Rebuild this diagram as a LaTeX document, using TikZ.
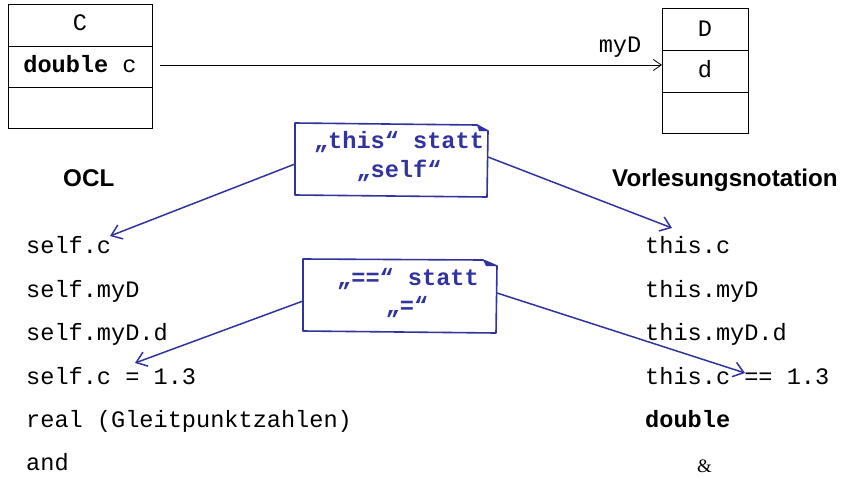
\documentclass[tikz,border=0pt]{standalone}
\usepackage{fontspec}
\setmainfont{Liberation Serif}
\setsansfont{Liberation Sans}
\setmonofont{Liberation Mono}
\usetikzlibrary{arrows.meta}
\definecolor{noteblue}{RGB}{51,51,160}
\begin{document}
\begin{tikzpicture}[x=1pt,y=-1pt,
  mono/.style={font=\fontsize{23.6}{28}\selectfont\ttfamily, inner sep=0pt, anchor=base west},
  monoc/.style={font=\fontsize{23.6}{28}\selectfont\ttfamily, inner sep=0pt, anchor=base},
  head/.style={font=\fontsize{24.2}{28}\selectfont\sffamily\bfseries, inner sep=0pt, anchor=base west},
  notetxt/.style={font=\fontsize{23.6}{28}\selectfont\ttfamily\bfseries, text=noteblue, inner sep=0pt, anchor=base},
  classline/.style={draw=black, line width=1pt},
  noteshape/.style={draw=noteblue, line width=1.6pt, line join=round, fill=white},
  bluearrow/.style={draw=noteblue, line width=1.5pt, -{Straight Barb[length=10pt,width=15pt,line width=1.5pt]}},
  assoc/.style={draw=black, line width=0.8pt, -{Straight Barb[length=8pt,width=11pt,line width=0.8pt]}}
]
\useasboundingbox (0,0) rectangle (844,477);
\fill[white] (0,0) rectangle (844,477);

% class C
\draw[classline] (8,4) rectangle (152,128);
\draw[classline] (8,46) -- (152,46);
\draw[classline] (8,87) -- (152,87);
\node[monoc] (cname) at (80,30) {C};
\node[monoc] (cattr) at (80,72) {\textbf{double} c};

% class D
\draw[classline] (662,8) rectangle (748,133);
\draw[classline] (662,50) -- (748,50);
\draw[classline] (662,92) -- (748,92);
\node[monoc] (dname) at (705,36) {D};
\node[monoc] (dattr) at (705,77) {d};

% association
\coordinate (assocstart) at (160,65);
\coordinate (assocend) at (662,65);
\draw[assoc] (assocstart) -- (assocend);
\node[monoc] (myD) at (620,52) {myD};

% headers
\node[head] (ocl) at (63,186) {OCL};
\node[head] (vorl) at (612,186) {Vorlesungsnotation};

% left column
\node[mono] (l1) at (26,253) {self.c};
\node[mono] (l2) at (26,297) {self.myD};
\node[mono] (l3) at (26,340) {self.myD.d};
\node[mono] (l4) at (26,384) {self.c = 1.3};
\node[mono] (l5) at (26,427) {real (Gleitpunktzahlen)};
\node[mono] (l6) at (26,470) {and};

% right column
\node[mono] (r1) at (645,253) {this.c};
\node[mono] (r2) at (645,297) {this.myD};
\node[mono] (r3) at (645,340) {this.myD.d};
\node[mono] (r4) at (645,384) {this.c == 1.3};
\node[mono] (r5) at (645,427) {\textbf{double}};
\node[font=\fontsize{19}{22}\selectfont\rmfamily, inner sep=0pt, anchor=base west] (r6) at (697,472) {\&};

% note 1
\draw[noteshape] (295,123) -- (477,125) -- (488,131) -- (487,197) -- (295,195) -- cycle;
\fill[noteblue] (477,125) -- (488,131) -- (479,131) -- cycle;
\node[notetxt] (n1a) at (399,148) {„this“ statt};
\node[notetxt] (n1b) at (399,177) {„self“};
\coordinate (n1l) at (295,164);
\coordinate (n1r) at (488,157);
\coordinate (t1l) at (110,236);
\coordinate (t1r) at (672,228);
\draw[bluearrow] (n1l) -- (t1l);
\draw[bluearrow] (n1r) -- (t1r);

% note 2
\draw[noteshape] (303,259) -- (483,260) -- (497,266) -- (496,333) -- (303,331) -- cycle;
\fill[noteblue] (483,260) -- (497,266) -- (486,266) -- cycle;
\node[notetxt] (n2a) at (408,285) {„==“ statt};
\node[notetxt] (n2b) at (407,313) {„=“};
\coordinate (n2l) at (303,301);
\coordinate (n2r) at (497,293);
\coordinate (t2l) at (135,363);
\coordinate (t2r) at (745,373);
\draw[bluearrow] (n2l) -- (t2l);
\draw[bluearrow] (n2r) -- (t2r);
\end{tikzpicture}
\end{document}
